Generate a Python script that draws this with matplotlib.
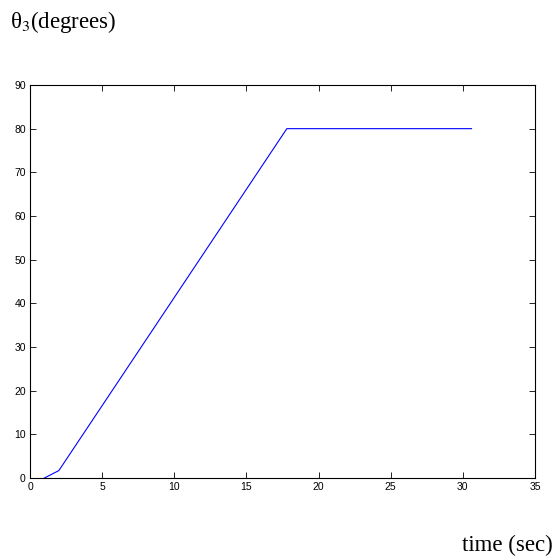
import numpy as np
import matplotlib
matplotlib.use('Agg')
import matplotlib.pyplot as plt

plt.rcParams['mathtext.fontset'] = 'stix'

# Data
time = [1, 2, 17.8, 30.6]
theta3 = [0, 1.7, 80, 80]

xticks = [0, 5, 10, 15, 20, 25, 30, 35]
yticks = [0, 10, 20, 30, 40, 50, 60, 70, 80, 90]

fig = plt.figure(figsize=(5.55, 5.6), dpi=100)
ax = fig.add_axes([30 / 555, 1 - 478 / 560, 505 / 555, 393 / 560])

ax.plot(time, theta3, color='#0000ff', linewidth=0.8)

ax.set_xlim(0, 35)
ax.set_ylim(0, 90)
ax.set_xticks(xticks)
ax.set_yticks(yticks)
ax.tick_params(direction='in', top=True, right=True, length=4, width=0.6,
               labelsize=7.5, pad=3)
for lab in ax.get_xticklabels() + ax.get_yticklabels():
    lab.set_family('Liberation Sans')
for sp in ax.spines.values():
    sp.set_linewidth(0.8)

fig.text(10 / 555, 1 - 22 / 560, 'θ$_{\\mathrm{3}}$(degrees)', family='Liberation Serif',
         fontsize=16.5, va='center', ha='left')
fig.text(553 / 555, 1 - 545 / 560, 'time (sec)', family='Liberation Serif',
         fontsize=16.5, va='center', ha='right')

fig.savefig('out.png', dpi=100)
